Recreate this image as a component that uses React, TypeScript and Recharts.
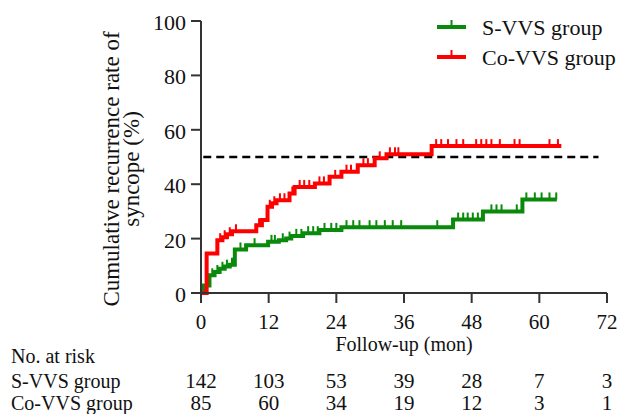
import React from 'react';
import { LineChart, Line, XAxis, YAxis } from 'recharts';

const FONT = "'Liberation Serif', 'Times New Roman', serif";
const AXIS = '#333333';
const GREEN = '#0a8a0a';
const RED = '#ff0000';
const txt = { fontFamily: FONT };

const xTicks = [0, 12, 24, 36, 48, 60, 72];
const yTicks = [0, 20, 40, 60, 80, 100];

// numbers at risk, one per x tick
const sRisk = [142, 103, 53, 39, 28, 7, 3];
const coRisk = [85, 60, 34, 19, 12, 3, 1];

// [month, cumulative %] where the curve steps up
const sSteps: [number, number][] = [
  [0, 0], [0.5, 2.8], [1.5, 6.5], [2.4, 7.7], [3.3, 8.9], [4.2, 9.7], [5.1, 10.4],
  [6.0, 16.0], [8.0, 17.6], [11.9, 18.8], [13.8, 19.4], [15.1, 20.0], [16.0, 21.0],
  [18.1, 22.0], [21.0, 23.2], [24.9, 24.2], [44.7, 27.0], [50.0, 30.0], [57.0, 34.4],
];
const sEnd = 63.1;
const sCensored = [
  2.0, 2.9, 3.8, 4.6, 5.5, 7.0, 9.5, 12.5, 13.1, 14.5, 15.7, 16.9, 17.8, 19.0, 19.9,
  20.7, 21.9, 23.1, 24.0, 25.8, 27.0, 28.1, 29.9, 31.1, 32.6, 34.0, 35.5, 41.9, 45.6,
  46.5, 47.3, 48.2, 49.1, 51.5, 52.4, 53.3, 56.0, 57.7, 59.2, 60.4, 61.8, 63.0,
];

const coSteps: [number, number][] = [
  [0, 0], [1.0, 14.5], [2.9, 19.4], [3.8, 20.5], [4.6, 21.6], [5.5, 22.7], [9.8, 24.9],
  [10.8, 26.8], [11.8, 31.7], [12.6, 33.0], [13.4, 34.1], [15.7, 36.6], [16.6, 39.0],
  [20.2, 40.3], [22.8, 42.7], [24.9, 44.6], [27.8, 47.0], [30.8, 49.5], [32.9, 51.0],
  [40.9, 54.0],
];
const coEnd = 63.9;
const coCensored = [
  3.4, 4.2, 5.1, 6.2, 10.3, 12.2, 13.0, 14.0, 14.8, 16.2, 17.5, 18.3, 19.2, 21.0, 21.8,
  23.8, 25.8, 26.6, 28.8, 29.6, 31.7, 33.5, 34.4, 35.0, 41.7, 42.6, 43.8, 45.3, 46.5,
  48.8, 49.7, 50.6, 51.5, 53.0, 55.6, 56.5, 61.8, 63.3,
];

const halfLine = [
  { t: 0.4, v: 50 },
  { t: 70.5, v: 50 },
];

function buildCurve(steps: [number, number][], censored: number[], end: number) {
  const valueAt = (t: number) => {
    let v = 0;
    for (const [st, sv] of steps) if (st <= t) v = sv;
    return v;
  };
  const pts = [
    ...steps.map(([t, v]) => ({ t, v, c: false })),
    ...censored.map((t) => ({ t, v: valueAt(t), c: true })),
    { t: end, v: valueAt(end), c: false },
  ];
  return pts.sort((a, b) => a.t - b.t || (a.c ? 1 : -1));
}

const sData = buildCurve(sSteps, sCensored, sEnd);
const coData = buildCurve(coSteps, coCensored, coEnd);

const censorDot = (color: string) => (p: any) =>
  p.payload && p.payload.c ? (
    <line key={p.index} x1={p.cx} x2={p.cx} y1={p.cy} y2={p.cy - 7} stroke={color} strokeWidth={2} />
  ) : (
    <g key={p.index} />
  );

const XTick = (props: any) => {
  const { x, y, payload } = props;
  const i = xTicks.indexOf(payload.value);
  return (
    <g fill="#111" textAnchor="middle">
      <text x={x} y={y + 26} fontSize={21} style={txt}>{payload.value}</text>
      <text x={x} y={y + 85} fontSize={21} style={txt}>{sRisk[i]}</text>
      <text x={x} y={y + 107} fontSize={21} style={txt}>{coRisk[i]}</text>
    </g>
  );
};

const YTick = (props: any) => {
  const { x, y, payload } = props;
  return (
    <text x={x} y={y + 9} fontSize={22} style={txt} fill="#111" textAnchor="end">
      {payload.value}
    </text>
  );
};

const XLabel = (props: any) => {
  const { x, y, width } = props.viewBox;
  return (
    <g fill="#111" fontSize={20}>
      <text x={x + width / 2} y={y + 58} textAnchor="middle" style={txt}>Follow-up (mon)</text>
      <text x={11} y={y + 70} style={txt}>No. at risk</text>
      <text x={11} y={y + 95} style={txt}>S-VVS group</text>
      <text x={11} y={y + 117} style={txt}>Co-VVS group</text>
    </g>
  );
};

const YLabel = (props: any) => {
  const { y, height } = props.viewBox;
  const cy = y + height / 2 + 12;
  return (
    <g fill="#111" fontSize={23} textAnchor="middle">
      <text transform={`translate(119 ${cy}) rotate(-90)`} style={txt}>Cumulative recurrence rate of</text>
      <text transform={`translate(139 ${cy}) rotate(-90)`} style={txt}>syncope (%)</text>
    </g>
  );
};

const legendItems = [
  { name: 'S-VVS group', color: GREEN },
  { name: 'Co-VVS group', color: RED },
];

export default function App() {
  return (
    <div style={{ position: 'absolute', left: 0, top: 0, width: 626, height: 414, background: '#fff', fontFamily: FONT }}>
      <LineChart width={626} height={414} margin={{ top: 21, right: 19, left: 0, bottom: 0 }}>
        <XAxis
          type="number"
          dataKey="t"
          domain={[0, 72]}
          ticks={xTicks}
          allowDataOverflow
          height={121}
          tickSize={10}
          tickMargin={0}
          axisLine={{ stroke: AXIS, strokeWidth: 2 }}
          tickLine={{ stroke: AXIS, strokeWidth: 2 }}
          tick={<XTick />}
          label={{ content: XLabel } as any}
        />
        <YAxis
          type="number"
          domain={[0, 100]}
          ticks={yTicks}
          width={201}
          tickSize={10}
          tickMargin={5}
          axisLine={{ stroke: AXIS, strokeWidth: 2 }}
          tickLine={{ stroke: AXIS, strokeWidth: 2 }}
          tick={<YTick />}
          label={{ content: YLabel } as any}
        />
        <Line
          data={halfLine}
          dataKey="v"
          stroke="#000"
          strokeWidth={2.5}
          strokeDasharray="8 5"
          dot={false}
          activeDot={false}
          isAnimationActive={false}
        />
        <Line
          data={sData}
          dataKey="v"
          type="stepAfter"
          stroke={GREEN}
          strokeWidth={4}
          dot={censorDot(GREEN)}
          activeDot={false}
          isAnimationActive={false}
        />
        <Line
          data={coData}
          dataKey="v"
          type="stepAfter"
          stroke={RED}
          strokeWidth={4}
          dot={censorDot(RED)}
          activeDot={false}
          isAnimationActive={false}
        />
      </LineChart>
      <svg width={626} height={80} style={{ position: 'absolute', left: 0, top: 0 }}>
        {legendItems.map((it, i) => {
          const y = 27 + i * 30;
          return (
            <g key={it.name}>
              <line x1={437} x2={466} y1={y} y2={y} stroke={it.color} strokeWidth={4} />
              <line x1={451.5} x2={451.5} y1={y} y2={y - 7} stroke={it.color} strokeWidth={2} />
              <text x={482} y={y + 8} fontSize={22} fill="#111" style={txt}>
                {it.name}
              </text>
            </g>
          );
        })}
      </svg>
    </div>
  );
}
